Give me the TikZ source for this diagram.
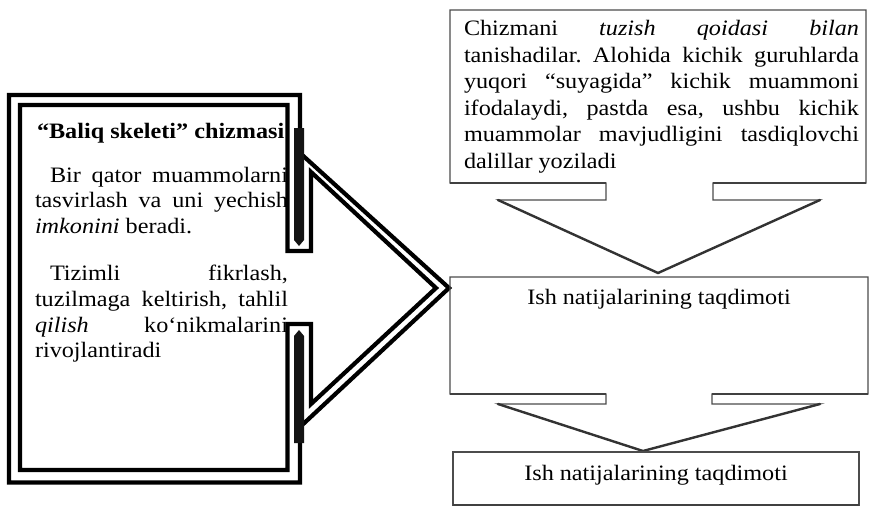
\documentclass[tikz,border=0pt]{standalone}
\usepackage{fontspec}
\setmainfont{Liberation Serif}[FakeStretch=1.1]
\frenchspacing
\newcommand{\Jline}[2]{\makebox[#1][s]{#2}}
\tikzset{
  ln/.style={anchor=base west, inner sep=0pt, outer sep=0pt, font=\fontsize{22}{26}\selectfont},
  cn/.style={anchor=base, inner sep=0pt, outer sep=0pt, font=\fontsize{22}{26}\selectfont},
  heavy/.style={line width=4.2pt, line join=miter, black},
  bar/.style={fill=black!92, draw=none},
  thinbox/.style={line width=1.2pt, draw=black!70, line join=miter},
  diag/.style={line width=2.4pt, draw=black!80, line cap=round},
  edge/.style={line width=2.2pt, draw=black!75},
}
\begin{document}
\begin{tikzpicture}[x=1pt,y=-1pt]
\useasboundingbox (0,0) rectangle (869,508);
\fill[white] (0,0) rectangle (869,508);

% ---------- left box text ----------
\node[ln] (title) at (37,138) {\bfseries “Baliq skeleti” chizmasi};
\node[ln] (p1a) at (35,182) {\Jline{253pt}{\hspace*{15pt}Bir qator muammolarni}};
\node[ln] (p1b) at (35,207) {\Jline{253pt}{tasvirlash va uni yechish}};
\node[ln] (p1c) at (35,233) {\textit{imkonini} beradi.};
\node[ln] (p2a) at (35,280) {\Jline{253pt}{\hspace*{15pt}Tizimli fikrlash,}};
\node[ln] (p2b) at (35,306) {\Jline{253pt}{tuzilmaga keltirish, tahlil}};
\node[ln] (p2c) at (35,332) {\Jline{253pt}{\textit{qilish} ko‘nikmalarini}};
\node[ln] (p2d) at (35,357) {rivojlantiradi};

% ---------- left box frame with double chevron ----------
\draw[heavy] (300,153) -- (449,288) -- (300,427) -- (300,482.5) -- (9,482.5) -- (9,95) -- (300,95) -- cycle;
\draw[heavy] (20,105) -- (287.5,105) -- (287.5,251) -- (311,251) -- (311,172) -- (436,288)
  -- (311,404) -- (311,324) -- (287.5,324) -- (287.5,470) -- (20,470) -- cycle;
\fill[bar] (294,128) -- (304,128) -- (304,240) -- (299,246) -- (294,240) -- cycle;
\fill[bar] (294,336) -- (299,330) -- (304,336) -- (304,443) -- (294,443) -- cycle;

% ---------- top right callout ----------
\draw[thinbox] (450,10) -- (866,10) -- (866,183) -- (713,183) -- (713,200) -- (820,200)
  -- (658,273) -- (498,200) -- (606,200) -- (606,183) -- (450,183) -- cycle;
\draw[diag] (498,200) -- (658,273) -- (820,200);
\draw[edge] (450,183) -- (606,183);
\draw[edge] (713,183) -- (866,183);
\node[ln] (t1) at (464,36) {\Jline{395pt}{Chizmani \textit{tuzish} \textit{qoidasi} \textit{bilan}}};
\node[ln] (t2) at (464,62.4) {\Jline{395pt}{tanishadilar. Alohida kichik guruhlarda}};
\node[ln] (t3) at (464,88.8) {\Jline{395pt}{yuqori “suyagida” kichik muammoni}};
\node[ln] (t4) at (464,115.2) {\Jline{395pt}{ifodalaydi, pastda esa, ushbu kichik}};
\node[ln] (t5) at (464,141.6) {\Jline{395pt}{muammolar mavjudligini tasdiqlovchi}};
\node[ln] (t6) at (464,168) {dalillar yoziladi};

% ---------- middle callout ----------
\draw[thinbox] (450,277) -- (868,277) -- (868,394) -- (712,394) -- (712,404) -- (820,404)
  -- (643,451) -- (498,404) -- (606,404) -- (606,394) -- (450,394) -- cycle;
\draw[diag] (498,404) -- (643,451) -- (820,404);
\draw[edge] (450,394) -- (606,394);
\draw[edge] (712,394) -- (868,394);
\node[cn] (mid) at (659,304) {Ish natijalarining taqdimoti};

% ---------- bottom box ----------
\draw[thinbox] (453,452) rectangle (859,505);
\draw[edge] (453,505) -- (859,505);
\node[cn] (bot) at (656,480) {Ish natijalarining taqdimoti};
\end{tikzpicture}
\end{document}
